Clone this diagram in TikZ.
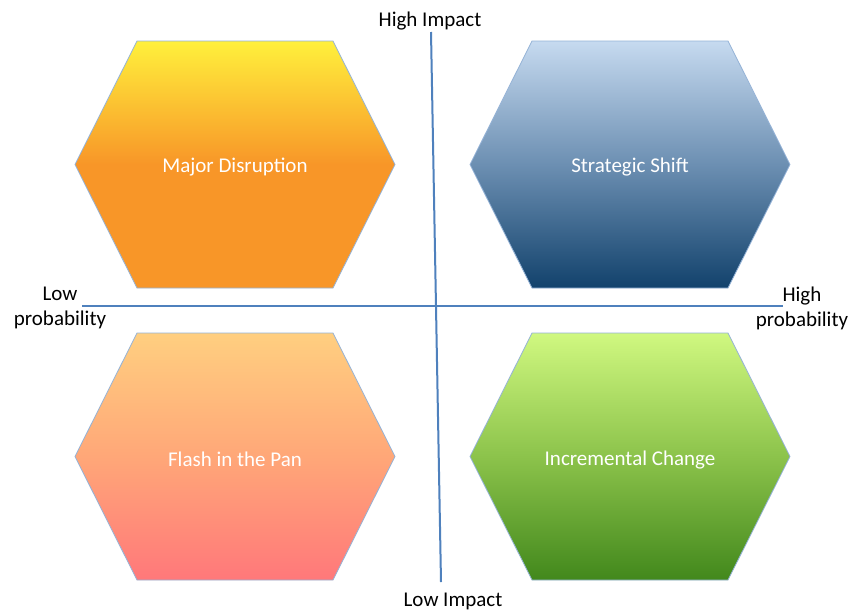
\documentclass[tikz,border=0pt]{standalone}
\usepackage{fontspec}
\setmainfont{Carlito}
\begin{document}
\begin{tikzpicture}[x=1pt,y=-1pt,
  hexline/.style={draw=hexedge,line width=0.8pt},
  axisline/.style={draw=axisblue,line width=2pt},
  axislabel/.style={font=\fontsize{21}{25}\selectfont,text=black,align=center,inner sep=0pt},
  hexlabel/.style={font=\fontsize{21}{25}\selectfont,text=white,inner sep=0pt}]
\definecolor{hexedge}{RGB}{149,179,215}
\definecolor{axisblue}{RGB}{79,129,189}
\definecolor{yel}{RGB}{255,240,60}
\definecolor{org}{RGB}{248,150,40}
\definecolor{lblue}{RGB}{198,218,240}
\definecolor{mblue}{RGB}{108,143,178}
\definecolor{dblue}{RGB}{18,66,108}
\definecolor{lorange}{RGB}{255,207,128}
\definecolor{morange}{RGB}{255,167,120}
\definecolor{pink}{RGB}{255,120,122}
\definecolor{lgreen}{RGB}{208,248,128}
\definecolor{mgreen}{RGB}{140,195,75}
\definecolor{dgreen}{RGB}{66,136,28}
\useasboundingbox (0,0) rectangle (854,611);
\fill[white] (0,0) rectangle (854,611);
% hexagons
\shade[hexline,top color=yel,bottom color=org,middle color=org]
  (75,164.5) -- (137,41) -- (333,41) -- (395,164.5) -- (333,288) -- (137,288) -- cycle;
\shade[hexline,top color=lblue,bottom color=dblue,middle color=mblue]
  (470,164.5) -- (532,41) -- (728,41) -- (790,164.5) -- (728,288) -- (532,288) -- cycle;
\shade[hexline,top color=lorange,bottom color=pink,middle color=morange]
  (75,456.5) -- (137,333) -- (333,333) -- (395,456.5) -- (333,580) -- (137,580) -- cycle;
\shade[hexline,top color=lgreen,bottom color=dgreen,middle color=mgreen]
  (470,456.5) -- (532,333) -- (728,333) -- (790,456.5) -- (728,580) -- (532,580) -- cycle;
% hexagon labels
\node[hexlabel] (md) at (235,167) {Major Disruption};
\node[hexlabel] (ss) at (630,167) {Strategic Shift};
\node[hexlabel] (fp) at (235,459) {Flash in the Pan};
\node[hexlabel] (ic) at (630,460) {Incremental Change};
% axis labels
\node[axislabel] (hi) at (430,21) {High Impact};
\node[axislabel] (li) at (453,601) {Low Impact};
\node[axislabel] (lp) at (60,308) {Low\\probability};
\node[axislabel] (hp) at (802,308) {High\\probability};
% axes
\coordinate (vt) at (431,32);
\coordinate (vb) at (441,582);
\coordinate (hl) at (82,306);
\coordinate (hr) at (783,306);
\draw[axisline] (vt) -- (vb);
\draw[axisline] (hl) -- (hr);
\end{tikzpicture}
\end{document}
